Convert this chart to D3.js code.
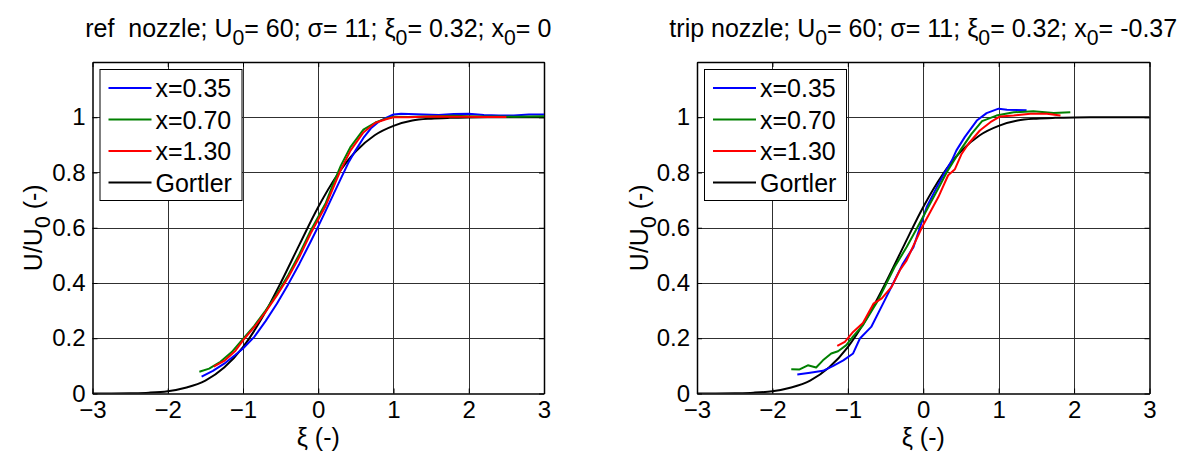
<!DOCTYPE html>
<html><head><meta charset="utf-8">
<script src="https://cdn.jsdelivr.net/npm/d3@7"></script>
<style>
html,body{margin:0;padding:0;background:#fff;}
svg{display:block;font-family:"Liberation Sans",Arial,Helvetica,sans-serif;}
</style></head><body>
<svg id="chart" width="1197" height="455"></svg>
<script>
// Axis ticks
const xiTicks = [-3, -2, -1, 0, 1, 2, 3];
const uTicks = [0, 0.2, 0.4, 0.6, 0.8, 1];
const legendLabels = ["x=0.35", "x=0.70", "x=1.30", "Gortler"];
const seriesColors = ["#0000ff", "#008000", "#ff0000", "#000000"];

// Gortler similarity profile (shared by both panels)
const gortlerXi = [-3, -2.75, -2.5, -2.25, -2, -1.75, -1.5, -1.25, -1, -0.75, -0.5, -0.25, 0, 0.25, 0.5, 0.75, 1, 1.25, 1.5, 1.75, 2, 2.25, 2.5, 2.75, 3];
const gortlerU  = [0, 0.0002, 0.001, 0.003, 0.0085, 0.022, 0.047, 0.094, 0.168, 0.272, 0.400, 0.539, 0.675, 0.790, 0.877, 0.935, 0.969, 0.988, 0.995, 0.998, 0.9995, 1, 1, 1, 1];

// Reference nozzle, measured profiles [xi, U/U0]
const refX035 = [[-1.55,0.061],[-1.4,0.082],[-1.25,0.108],[-1.1,0.140],[-1.0,0.163],[-0.85,0.205],[-0.7,0.262],[-0.55,0.325],[-0.4,0.395],[-0.25,0.470],[-0.1,0.550],[0.0,0.605],[0.1,0.662],[0.2,0.720],[0.3,0.778],[0.4,0.835],[0.5,0.882],[0.6,0.925],[0.7,0.960],[0.8,0.983],[0.9,0.998],[1.0,1.010],[1.1,1.013],[1.2,1.012],[1.4,1.010],[1.6,1.008],[1.8,1.012],[2.0,1.013],[2.2,1.008],[2.4,1.006],[2.6,1.006],[2.8,1.010],[3.0,1.010]];
const refX070 = [[-1.58,0.079],[-1.45,0.090],[-1.3,0.115],[-1.15,0.150],[-1.0,0.198],[-0.85,0.245],[-0.7,0.300],[-0.55,0.360],[-0.4,0.428],[-0.25,0.505],[-0.1,0.590],[0.0,0.640],[0.1,0.690],[0.2,0.760],[0.3,0.825],[0.43,0.893],[0.6,0.955],[0.76,0.981],[0.9,0.995],[1.0,1.002],[1.2,1.001],[1.4,1.003],[1.6,1.004],[1.8,1.005],[2.0,1.004],[2.2,1.003],[2.4,1.003],[2.6,1.002],[2.8,1.003],[3.0,1.004]];
const refX130 = [[-1.39,0.097],[-1.25,0.118],[-1.1,0.155],[-1.0,0.192],[-0.85,0.240],[-0.7,0.295],[-0.55,0.355],[-0.4,0.420],[-0.25,0.495],[-0.1,0.580],[0.0,0.630],[0.1,0.680],[0.2,0.745],[0.3,0.810],[0.43,0.880],[0.6,0.945],[0.76,0.980],[0.9,0.993],[1.0,1.000],[1.2,1.000],[1.4,1.002],[1.6,1.003],[1.8,1.002],[2.0,1.002],[2.2,1.001],[2.5,1.001]];

// Tripped nozzle, measured profiles [xi, U/U0]
const tripX035 = [[-1.67,0.069],[-1.5,0.075],[-1.33,0.082],[-1.2,0.099],[-1.06,0.120],[-0.93,0.145],[-0.84,0.199],[-0.69,0.241],[-0.51,0.338],[-0.4,0.398],[-0.27,0.470],[-0.13,0.530],[-0.045,0.600],[0.045,0.675],[0.18,0.747],[0.3,0.807],[0.38,0.844],[0.44,0.880],[0.55,0.928],[0.71,0.988],[0.84,1.015],[1.0,1.031],[1.11,1.027],[1.37,1.025]];
const tripX070 = [[-1.75,0.088],[-1.64,0.087],[-1.53,0.102],[-1.42,0.094],[-1.33,0.120],[-1.22,0.145],[-1.13,0.153],[-1.02,0.175],[-0.93,0.207],[-0.8,0.247],[-0.6,0.337],[-0.38,0.458],[-0.22,0.530],[-0.08,0.600],[0.09,0.687],[0.22,0.753],[0.31,0.800],[0.49,0.880],[0.64,0.940],[0.78,0.986],[0.97,1.006],[1.2,1.018],[1.46,1.022],[1.73,1.015],[1.95,1.018]];
const tripX130 = [[-1.14,0.172],[-1.04,0.187],[-0.93,0.223],[-0.8,0.255],[-0.66,0.325],[-0.55,0.344],[-0.42,0.386],[-0.31,0.446],[-0.22,0.482],[-0.02,0.600],[0.2,0.711],[0.33,0.790],[0.42,0.812],[0.51,0.868],[0.6,0.904],[0.75,0.952],[0.89,0.982],[1.02,1.003],[1.2,1.006],[1.42,1.013],[1.64,1.013],[1.82,1.006]];

const gortler = gortlerXi.map((x, i) => [x, gortlerU[i]]);

const panels = [
  {
    title: [["ref  nozzle; U", false], ["0", true], ["= 60; σ= 11; ξ", false], ["0", true], ["= 0.32; x", false], ["0", true], ["= 0", false]],
    left: 92.5, right: 544, series: [refX035, refX070, refX130, gortler], yLabelX: 33
  },
  {
    title: [["trip nozzle; U", false], ["0", true], ["= 60; σ= 11; ξ", false], ["0", true], ["= 0.32; x", false], ["0", true], ["= -0.37", false]],
    left: 697, right: 1149.5, series: [tripX035, tripX070, tripX130, gortler], yLabelX: 639
  }
];

const plotTop = 62, plotBottom = 393.5;
const svg = d3.select("#chart");

// text with MATLAB-style lowered subscripts
function addRich(sel, parts, size) {
  const shift = size * 0.32;
  parts.forEach(([t, sub], i) => {
    const ts = sel.append("tspan").text(t);
    if (sub) ts.attr("font-size", size * 0.85).attr("dy", shift);
    else if (i > 0 && parts[i - 1][1]) ts.attr("dy", -shift);
  });
}

panels.forEach((p, pi) => {
  const x = d3.scaleLinear().domain([-3, 3]).range([p.left, p.right]);
  const y = d3.scaleLinear().domain([0, 1.2]).range([plotBottom, plotTop]);
  const g = svg.append("g");
  const w = p.right - p.left, h = plotBottom - plotTop;

  // grid
  const grid = g.append("g").attr("stroke", "#303030").attr("stroke-width", 1).attr("fill", "none");
  xiTicks.slice(1, -1).forEach(t => grid.append("line").attr("x1", Math.round(x(t)) + 0.5).attr("x2", Math.round(x(t)) + 0.5).attr("y1", plotTop).attr("y2", plotBottom));
  uTicks.slice(1).forEach(t => grid.append("line").attr("x1", p.left).attr("x2", p.right).attr("y1", Math.round(y(t)) + 0.5).attr("y2", Math.round(y(t)) + 0.5));

  // axes with inward ticks
  const axB = g.append("g").attr("transform", `translate(0,${plotBottom})`)
    .call(d3.axisBottom(x).tickValues(xiTicks).tickSizeInner(-5).tickSizeOuter(0).tickPadding(11).tickFormat(d3.format("d")));
  const axT = g.append("g").attr("transform", `translate(0,${plotTop})`)
    .call(d3.axisTop(x).tickValues(xiTicks).tickSizeInner(-5).tickSizeOuter(0).tickFormat(""));
  const axL = g.append("g").attr("transform", `translate(${p.left},0)`)
    .call(d3.axisLeft(y).tickValues(uTicks).tickSizeInner(-5).tickSizeOuter(0).tickPadding(7).tickFormat(d => d === 0 || d === 1 ? d3.format("d")(d) : d3.format(".1f")(d)));
  const axR = g.append("g").attr("transform", `translate(${p.right},0)`)
    .call(d3.axisRight(y).tickValues(uTicks).tickSizeInner(-5).tickSizeOuter(0).tickFormat(""));
  [axB, axT, axL, axR].forEach(a => {
    a.attr("font-family", null).attr("font-size", null);
    a.select(".domain").attr("stroke", "#000").attr("stroke-width", 1.5);
    a.selectAll(".tick line").attr("stroke", "#000").attr("stroke-width", 1);
    a.selectAll(".tick text").attr("fill", "#000").attr("font-size", 24);
  });
  axB.selectAll(".tick text").attr("dy", "0.55em");

  // curves
  const clipId = "clip" + pi;
  svg.append("clipPath").attr("id", clipId).append("rect").attr("x", p.left).attr("y", plotTop).attr("width", w).attr("height", h);
  const curves = g.append("g").attr("clip-path", `url(#${clipId})`);
  [3, 0, 1, 2].forEach(i => {
    const line = d3.line().x(d => x(d[0])).y(d => y(d[1]))
      .curve(i === 3 ? d3.curveMonotoneX : d3.curveLinear);
    curves.append("path").datum(p.series[i]).attr("d", line)
      .attr("fill", "none").attr("stroke", seriesColors[i]).attr("stroke-width", 2).attr("stroke-linejoin", "round");
  });

  // title
  const title = g.append("text").attr("x", (p.left + p.right) / 2).attr("y", 37)
    .attr("text-anchor", "middle").attr("font-size", 25).style("white-space", "pre");
  addRich(title, p.title, 25);

  // axis labels
  g.append("text").attr("x", (p.left + p.right) / 2).attr("y", 446).attr("text-anchor", "middle").attr("font-size", 25).text("ξ (-)");
  const yl = g.append("text").attr("transform", `translate(${p.yLabelX},${(plotTop + plotBottom) / 2}) rotate(-90)`)
    .attr("text-anchor", "middle").attr("dy", "0.35em").attr("font-size", 25).style("white-space", "pre");
  addRich(yl, [["U/U", false], ["0", true], [" (-)", false]], 25);

  // legend
  const lg = g.append("g").attr("transform", `translate(${p.left + 7.5},69.5)`);
  lg.append("rect").attr("width", 142).attr("height", 131).attr("fill", "#fff").attr("stroke", "#000").attr("stroke-width", 1);
  legendLabels.forEach((lab, i) => {
    const ry = 18.5 + i * 31.5;
    lg.append("line").attr("x1", 8.5).attr("x2", 51.5).attr("y1", ry).attr("y2", ry).attr("stroke", seriesColors[i]).attr("stroke-width", 2);
    lg.append("text").attr("x", 55.5).attr("y", ry).attr("dy", "0.36em").attr("font-size", 25).text(lab);
  });
});
</script>
</body></html>
